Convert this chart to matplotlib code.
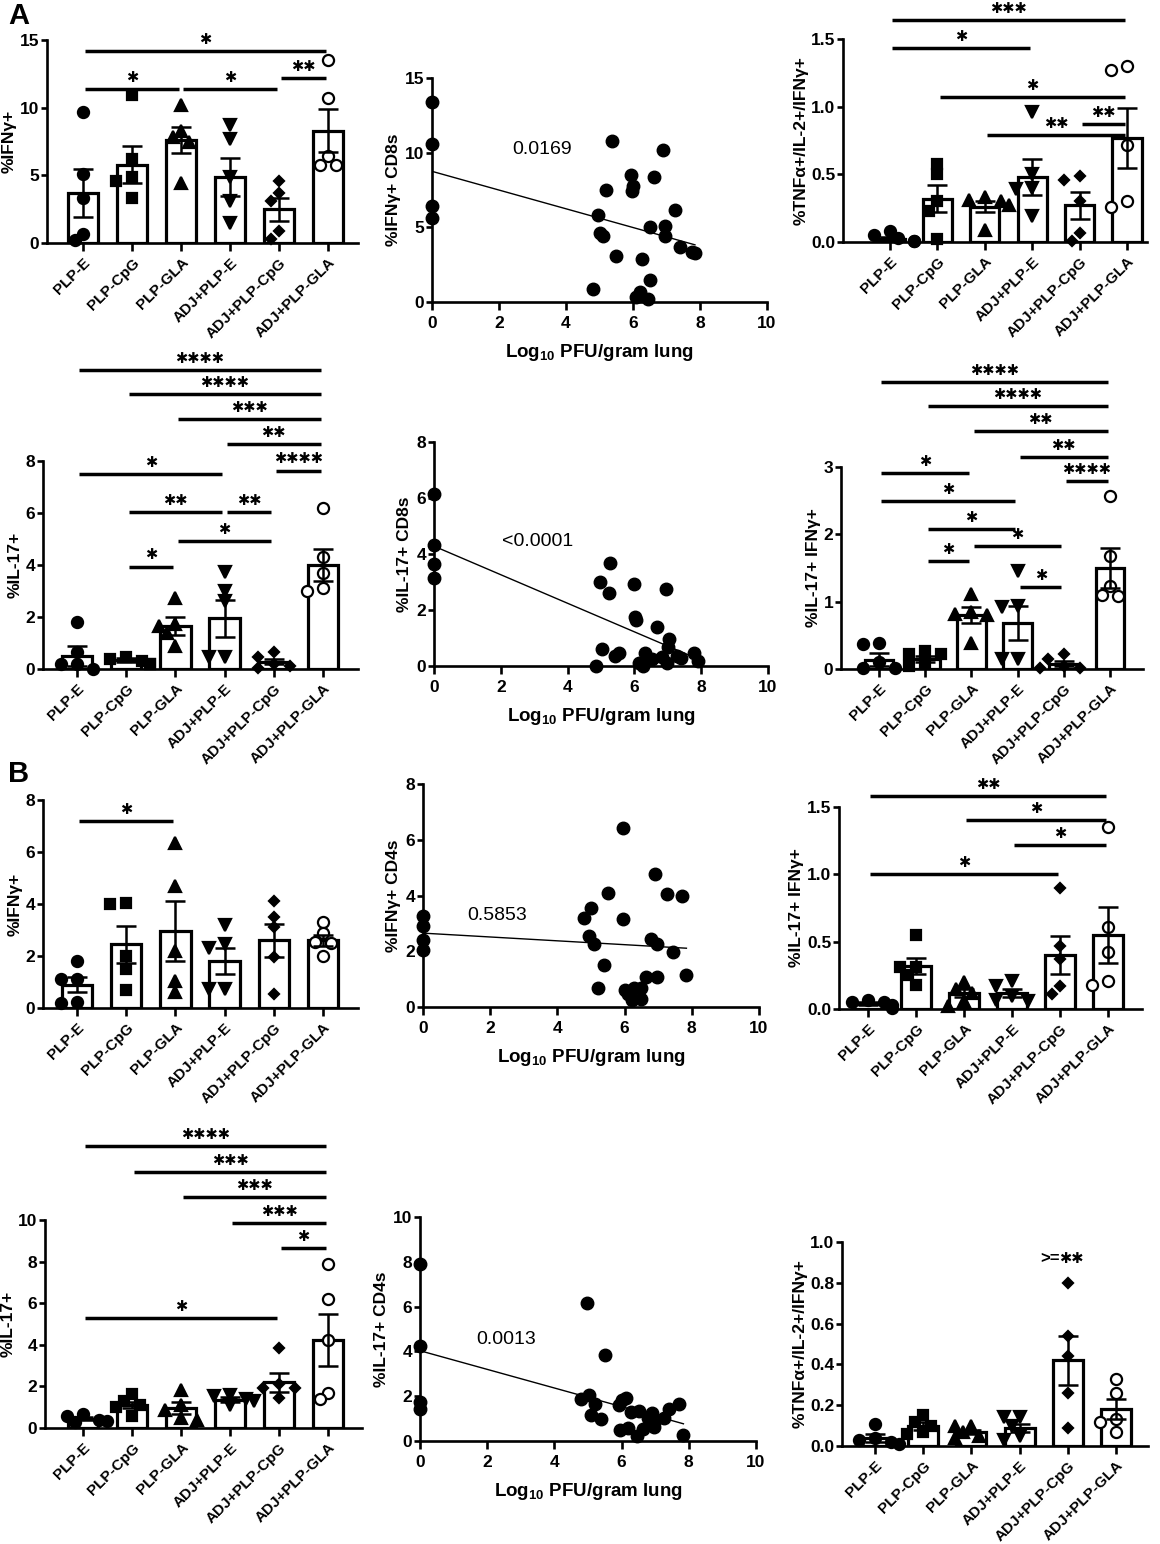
import numpy as np
import matplotlib
matplotlib.use("Agg")
from matplotlib import pyplot as plt

plt.rcParams["font.family"] = ["Liberation Sans", "DejaVu Sans"]
plt.rcParams["mathtext.fontset"] = "custom"
plt.rcParams["mathtext.rm"] = "Liberation Sans:bold"
plt.rcParams["mathtext.bf"] = "Liberation Sans:bold"

# 组别
groups = ["PLP-E", "PLP-CpG", "PLP-GLA", "ADJ+PLP-E", "ADJ+PLP-CpG", "ADJ+PLP-GLA"]

# ---- A: CD8 ----
a_ifng_mean = [3.7, 5.8, 7.6, 4.9, 2.5, 8.3]
a_ifng_sem = [1.75, 1.4, 0.95, 1.4, 0.85, 1.6]
a_ifng_pts = [[9.7, 5.1, 3.3, 0.7, 0.2], [10.9, 6.2, 4.9, 4.6, 3.3],
              [10.2, 8.3, 7.8, 7.5, 4.4], [8.7, 7.7, 4.9, 3.1, 1.5],
              [4.6, 3.7, 3.1, 0.9, 0.3], [13.5, 10.7, 6.4, 5.8, 5.8]]
a_ifng_sig = [(0, 5, 14.2, 1), (0, 2, 11.4, 1), (2, 4, 11.4, 1), (4, 5, 12.2, 2)]

a_cd8_ifng_x = [0, 0, 0, 0, 5.36, 6.9, 5.2, 5.95, 6.0, 5.97, 6.64, 7.26, 4.96, 5.0, 5.1,
                6.5, 6.97, 6.95, 7.4, 7.76, 7.85, 5.5, 6.27, 4.8, 6.52, 6.1, 6.2, 6.45]
a_cd8_ifng_y = [13.4, 10.6, 6.4, 5.6, 10.8, 10.2, 7.5, 8.5, 7.75, 7.4, 8.35, 6.15, 5.8, 4.6, 4.4,
                5.0, 5.1, 4.4, 3.7, 3.35, 3.3, 3.1, 2.9, 0.85, 1.5, 0.33, 0.65, 0.22]
a_cd8_ifng_fit = (8.75, -0.627)

a_tnf_mean = [0.02, 0.32, 0.26, 0.48, 0.27, 0.77]
a_tnf_sem = [0.015, 0.1, 0.04, 0.13, 0.1, 0.22]
a_tnf_pts = [[0.08, 0.05, 0.03, 0.01, 0.01], [0.58, 0.5, 0.3, 0.23, 0.02],
             [0.33, 0.31, 0.3, 0.27, 0.09], [0.96, 0.5, 0.4, 0.39, 0.19],
             [0.49, 0.46, 0.3, 0.07, 0.01], [1.3, 1.27, 0.72, 0.3, 0.26]]
a_tnf_sig = [(0, 5, 1.64, 3), (0, 3, 1.43, 1), (1, 5, 1.07, 1), (4, 5, 0.87, 2), (2, 5, 0.79, 2)]

a_il17_mean = [0.5, 0.35, 1.65, 1.95, 0.28, 4.0]
a_il17_sem = [0.38, 0.08, 0.35, 0.7, 0.1, 0.62]
a_il17_pts = [[1.8, 0.65, 0.2, 0.2, 0.0], [0.45, 0.4, 0.3, 0.2, 0.2],
              [2.75, 1.75, 1.65, 1.4, 0.9], [3.75, 3.0, 2.6, 0.45, 0.45],
              [0.65, 0.45, 0.2, 0.1, 0.05], [6.2, 4.3, 3.7, 3.1, 3.0]]
a_il17_sig = [(0, 5, 11.5, 4), (1, 5, 10.58, 4), (2, 5, 9.6, 3), (3, 5, 8.64, 2),
              (4, 5, 7.63, 4), (0, 3, 7.5, 1), (1, 3, 6.05, 2), (3, 4, 6.05, 2),
              (2, 4, 4.92, 1), (1, 2, 3.94, 1)]

a_cd8_il17_x = [0, 0, 0, 0, 4.98, 5.26, 5.24, 5.98, 6.01, 6.04, 6.94, 6.68, 7.04, 7.01, 5.04, 4.85,
                5.41, 5.54, 6.13, 6.26, 6.33, 6.54, 6.84, 6.98, 7.29, 7.41, 7.78, 7.89]
a_cd8_il17_y = [6.16, 4.32, 3.64, 3.15, 3.0, 3.69, 2.6, 2.92, 1.76, 1.64, 2.75, 1.4, 0.96, 0.69, 0.6, 0.0,
                0.36, 0.45, 0.12, 0.0, 0.45, 0.24, 0.33, 0.12, 0.36, 0.27, 0.45, 0.18]
a_cd8_il17_fit = (4.28, -0.51)

a_dp_mean = [0.14, 0.15, 0.8, 0.68, 0.08, 1.5]
a_dp_sem = [0.1, 0.05, 0.12, 0.25, 0.04, 0.3]
a_dp_pts = [[0.38, 0.37, 0.1, 0.02, 0.02], [0.27, 0.23, 0.23, 0.1, 0.05],
            [1.12, 0.85, 0.82, 0.8, 0.38], [1.45, 0.93, 0.92, 0.15, 0.15],
            [0.22, 0.15, 0.05, 0.02, 0.02], [2.57, 1.68, 1.23, 1.1, 1.08]]
a_dp_sig = [(0, 5, 4.26, 4), (1, 5, 3.9, 4), (2, 5, 3.53, 2), (3, 5, 3.15, 2),
            (4, 5, 2.79, 4), (0, 2, 2.91, 1), (0, 3, 2.49, 1), (1, 3, 2.08, 1),
            (2, 4, 1.83, 1), (1, 2, 1.6, 1), (3, 4, 1.22, 1)]

# ---- B: CD4 ----
b_ifng_mean = [0.9, 2.45, 2.95, 1.8, 2.6, 2.6]
b_ifng_sem = [0.28, 0.7, 1.15, 0.5, 0.65, 0.22]
b_ifng_pts = [[1.8, 1.1, 1.1, 0.25, 0.2], [4.05, 4.0, 2.0, 1.5, 0.7],
              [6.35, 4.7, 2.2, 1.05, 0.6], [3.2, 2.45, 2.3, 0.75, 0.75],
              [4.1, 3.5, 3.1, 1.95, 0.55], [3.3, 2.9, 2.55, 2.5, 2.0]]
b_ifng_sig = [(0, 2, 7.2, 1)]

b_cd4_ifng_x = [0, 0, 0, 0, 4.79, 4.99, 4.95, 5.09, 5.52, 5.39, 5.22, 5.94, 5.94, 6.01, 6.11, 6.21,
                6.28, 6.5, 6.48, 6.65, 6.9, 6.8, 6.97, 6.97, 7.27, 7.43, 7.72, 7.84]
b_cd4_ifng_y = [3.28, 2.91, 2.39, 2.03, 3.21, 3.55, 2.53, 2.27, 4.09, 1.52, 0.68, 6.41, 3.15, 0.6, 0.48, 0.26,
                0.68, 0.68, 0.29, 1.08, 4.77, 2.44, 2.27, 1.07, 4.06, 1.96, 4.0, 1.16]
b_cd4_ifng_fit = (2.65, -0.069)

b_dp_mean = [0.04, 0.32, 0.12, 0.12, 0.4, 0.55]
b_dp_sem = [0.012, 0.06, 0.03, 0.03, 0.14, 0.21]
b_dp_pts = [[0.07, 0.05, 0.05, 0.03, 0.01], [0.55, 0.31, 0.31, 0.25, 0.18],
            [0.2, 0.15, 0.12, 0.06, 0.02], [0.21, 0.17, 0.1, 0.07, 0.06],
            [0.9, 0.47, 0.37, 0.17, 0.11], [1.35, 0.61, 0.42, 0.21, 0.18]]
b_dp_sig = [(0, 5, 1.58, 2), (2, 5, 1.4, 1), (3, 5, 1.22, 1), (0, 4, 1.0, 1)]

b_il17_mean = [0.45, 1.1, 0.95, 1.35, 2.2, 4.25]
b_il17_sem = [0.08, 0.15, 0.28, 0.12, 0.45, 1.25]
b_il17_pts = [[0.65, 0.6, 0.4, 0.35, 0.3], [1.65, 1.3, 1.1, 1.0, 0.6],
              [1.85, 1.1, 0.85, 0.5, 0.4], [1.6, 1.55, 1.4, 1.3, 1.1],
              [3.85, 2.1, 1.9, 1.9, 1.45], [7.9, 6.2, 4.25, 1.7, 1.4]]
b_il17_sig = [(0, 5, 13.55, 4), (1, 5, 12.3, 3), (2, 5, 11.1, 3), (3, 5, 9.87, 3),
              (4, 5, 8.64, 1), (0, 4, 5.28, 1)]

b_cd4_il17_x = [0, 0, 0, 0, 4.96, 5.5, 4.78, 5.03, 5.2, 5.09, 5.38, 5.93, 6.0, 6.12, 5.95, 6.2,
                6.27, 6.53, 6.47, 6.65, 6.78, 6.91, 6.96, 6.96, 7.27, 7.41, 7.72, 7.84]
b_cd4_il17_y = [7.9, 4.25, 1.75, 1.42, 6.18, 3.84, 1.87, 2.04, 1.67, 1.18, 1.0, 1.6, 1.85, 1.94, 0.51, 0.6,
                1.3, 1.33, 0.21, 0.52, 1.04, 1.25, 0.82, 0.63, 1.03, 1.45, 1.64, 0.28]
b_cd4_il17_fit = (4.03, -0.416)

b_tnf_mean = [0.04, 0.1, 0.07, 0.09, 0.42, 0.18]
b_tnf_sem = [0.02, 0.02, 0.01, 0.02, 0.12, 0.05]
b_tnf_pts = [[0.11, 0.04, 0.03, 0.02, 0.01], [0.15, 0.12, 0.1, 0.07, 0.06],
             [0.1, 0.1, 0.07, 0.05, 0.04], [0.14, 0.14, 0.1, 0.05, 0.03],
             [0.8, 0.54, 0.44, 0.26, 0.09], [0.33, 0.26, 0.13, 0.12, 0.07]]

W, H = 1160, 1544
fig = plt.figure(figsize=(W / 100, H / 100), dpi=100)

markers = ["o", "s", "^", "v", "D", "o"]
msizes = [8.0, 7.0, 8.0, 8.0, 5.5, 8.0]
STAR = "\u2731"


def px_axes(l, t, r, b):
    return fig.add_axes([l / W, 1 - b / H, (r - l) / W, (b - t) / H])


def style(ax):
    for s in ["top", "right"]:
        ax.spines[s].set_visible(False)
    for s in ["left", "bottom"]:
        ax.spines[s].set_linewidth(1.9)
    ax.tick_params(direction="out", length=4, width=1.9, labelsize=12.5, pad=1.5)


def swarm(ax, x0, vals, diam=10.0, step=8.0):
    ypx = ax.transData.transform(np.column_stack([np.full(len(vals), x0), vals]))[:, 1]
    xpx_unit = ax.transData.transform([(1, 0)])[0, 0] - ax.transData.transform([(0, 0)])[0, 0]
    placed, offs = [], []
    for y in ypx:
        for k in [0, -1, 1, -2, 2, -3, 3]:
            dx = k * step
            if all((dx - px) ** 2 + (y - py) ** 2 >= diam ** 2 for px, py in placed):
                break
        placed.append((dx, y))
        offs.append(dx / xpx_unit)
    return np.array(offs)


def bar_panel(box, means, sems, pts, ymax, yticks, fmt, ylabel, sigs=()):
    left, b0, b5, right, top, bottom = box
    sp = (b5 - b0) / 5
    ax = px_axes(left, top, right, bottom)
    ax.set_xlim(-(b0 - left) / sp, 5 + (right - b5) / sp)
    ax.set_ylim(0, ymax)
    x = np.arange(6)
    ax.bar(x, means, width=0.62, color="white", edgecolor="black", linewidth=2.3, zorder=2)
    for i, vals in enumerate(pts):
        offs = swarm(ax, i, vals)
        face = "white" if i == 5 else "black"
        ax.plot(i + offs, vals, ls="none", marker=markers[i], ms=msizes[i], mfc=face,
                mec="black", mew=1.6, clip_on=False, zorder=3)
    ax.errorbar(x, means, yerr=sems, fmt="none", ecolor="black", elinewidth=1.8,
                capsize=7, capthick=1.8, zorder=4)
    style(ax)
    ax.set_yticks(yticks)
    ax.set_yticklabels([fmt.format(v) for v in yticks], fontweight="bold")
    ax.set_xticks(x)
    ax.set_xticklabels(groups, rotation=45, ha="right", rotation_mode="anchor",
                       fontsize=11, fontweight="bold")
    ax.tick_params(axis="x", length=6, pad=3)
    ax.set_ylabel(ylabel, fontsize=12.5, fontweight="bold", labelpad=2)
    for i, j, y, n in sigs:
        ax.plot([i + 0.05, j - 0.05], [y, y], color="black", lw=2.5, clip_on=False,
                solid_capstyle="butt")
        ax.annotate(STAR * n, ((i + j) / 2, y), xytext=(0, 3), textcoords="offset points",
                    ha="center", va="bottom", fontsize=10.5, annotation_clip=False)
    return ax


def scatter_panel(box, xs, ys, fit, ptxt, ppos, ymax, yticks, ylabel):
    left, right, top, bottom = box
    ax = px_axes(left, top, right, bottom)
    ax.set_xlim(0, 10)
    ax.set_ylim(0, ymax)
    ax.plot(xs, ys, "o", color="black", ms=9, clip_on=False, zorder=3)
    xx = np.array([0, max(xs)])
    ax.plot(xx, fit[0] + fit[1] * xx, color="black", lw=1.0, zorder=2)
    ax.text(ppos[0], ppos[1], ptxt, fontsize=14, ha="center", va="center")
    style(ax)
    ax.tick_params(axis="x", length=6, pad=4)
    ax.set_xticks([0, 2, 4, 6, 8, 10])
    ax.set_yticks(yticks)
    for lab in ax.get_xticklabels() + ax.get_yticklabels():
        lab.set_fontweight("bold")
    ax.set_ylabel(ylabel, fontsize=12.5, fontweight="bold", labelpad=3)
    ax.set_xlabel("Log$_{\\mathbf{10}}$ PFU/gram lung", fontsize=13.5, fontweight="bold", labelpad=8)
    return ax


# A 第一行
bar_panel((47, 83, 328, 358, 40, 243), a_ifng_mean, a_ifng_sem, a_ifng_pts, 15,
          [0, 5, 10, 15], "{:g}", "%IFNγ+", a_ifng_sig)
scatter_panel((432, 767, 78, 302), a_cd8_ifng_x, a_cd8_ifng_y, a_cd8_ifng_fit, "0.0169",
              (3.3, 10.2), 15, [0, 5, 10, 15], "%IFNγ+ CD8s")
bar_panel((843, 890, 1127, 1147, 39, 242), a_tnf_mean, a_tnf_sem, a_tnf_pts, 1.5,
          [0, 0.5, 1.0, 1.5], "{:.1f}", "%TNFα+/IL-2+/IFNγ+", a_tnf_sig)

# A 第二行
bar_panel((43, 77, 323, 358, 461, 669), a_il17_mean, a_il17_sem, a_il17_pts, 8,
          [0, 2, 4, 6, 8], "{:g}", "%IL-17+", a_il17_sig)
scatter_panel((434, 768, 442, 666), a_cd8_il17_x, a_cd8_il17_y, a_cd8_il17_fit, "<0.0001",
              (3.1, 4.45), 8, [0, 2, 4, 6, 8], "%IL-17+ CD8s")
bar_panel((841, 879, 1110, 1143, 467, 669), a_dp_mean, a_dp_sem, a_dp_pts, 3,
          [0, 1, 2, 3], "{:g}", "%IL-17+ IFNγ+", a_dp_sig)

# B 第一行
bar_panel((43, 77, 323, 358, 800, 1008), b_ifng_mean, b_ifng_sem, b_ifng_pts, 8,
          [0, 2, 4, 6, 8], "{:g}", "%IFNγ+", b_ifng_sig)
scatter_panel((423, 759, 784, 1007), b_cd4_ifng_x, b_cd4_ifng_y, b_cd4_ifng_fit, "0.5853",
              (2.2, 3.3), 8, [0, 2, 4, 6, 8], "%IFNγ+ CD4s")
bar_panel((839, 868, 1108, 1142, 807, 1009), b_dp_mean, b_dp_sem, b_dp_pts, 1.5,
          [0, 0.5, 1.0, 1.5], "{:.1f}", "%IL-17+ IFNγ+", b_dp_sig)

# B 第二行
bar_panel((45, 83, 328, 362, 1220, 1428), b_il17_mean, b_il17_sem, b_il17_pts, 10,
          [0, 2, 4, 6, 8, 10], "{:g}", "%IL-17+", b_il17_sig)
scatter_panel((420, 756, 1217, 1441), b_cd4_il17_x, b_cd4_il17_y, b_cd4_il17_fit, "0.0013",
              (2.55, 4.55), 10, [0, 2, 4, 6, 8, 10], "%IL-17+ CD4s")
ax = bar_panel((842, 875, 1116, 1148, 1242, 1446), b_tnf_mean, b_tnf_sem, b_tnf_pts, 1.0,
               [0, 0.2, 0.4, 0.6, 0.8, 1.0], "{:.1f}", "%TNFα+/IL-2+/IFNγ+")
ax.annotate(">=", (4, 0.88), xytext=(-6, 0), textcoords="offset points", ha="right",
            va="bottom", fontsize=12, fontweight="bold")
ax.annotate(STAR * 2, (4, 0.88), xytext=(-6, 0), textcoords="offset points", ha="left",
            va="bottom", fontsize=10.5)

fig.text(8 / W, 1 - 16 / H, "A", fontsize=21, fontweight="bold", va="center")
fig.text(8 / W, 1 - 774 / H, "B", fontsize=21, fontweight="bold", va="center")

fig.savefig("out.png", dpi=100)
